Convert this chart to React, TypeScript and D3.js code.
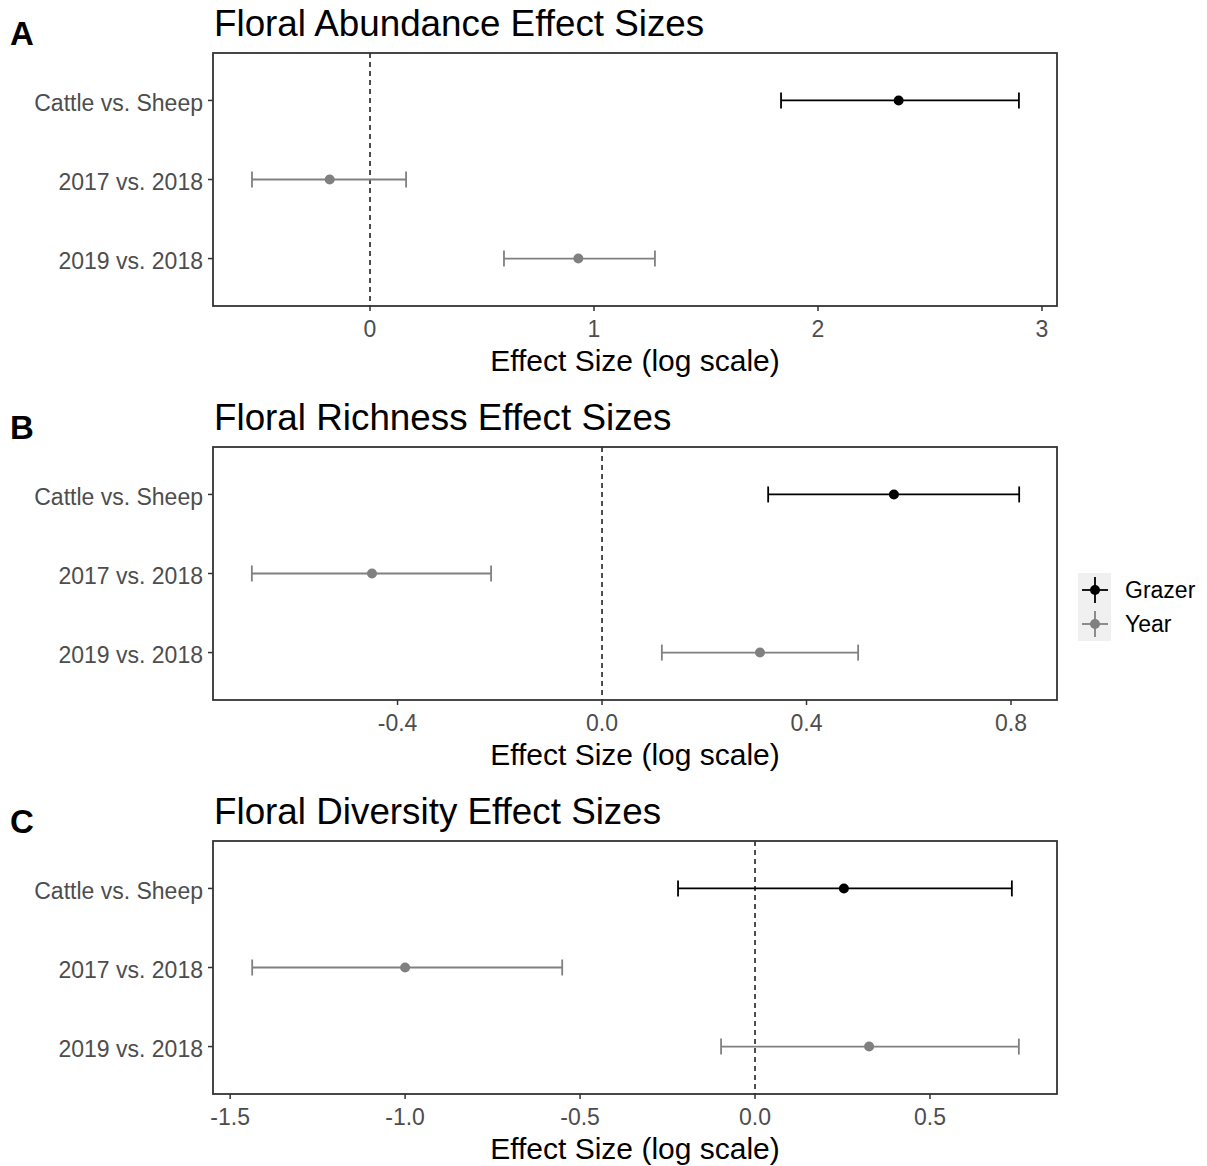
import React from "react";
import * as d3 from "d3";

const rowLabels = ["Cattle vs. Sheep", "2017 vs. 2018", "2019 vs. 2018"];
const rowGroups = ["Grazer", "Year", "Year"];
const groupNames = ["Grazer", "Year"];
const groupColors = ["#000000", "#808080"];

const panelLetters = ["A", "B", "C"];
const panelTitles = [
  "Floral Abundance Effect Sizes",
  "Floral Richness Effect Sizes",
  "Floral Diversity Effect Sizes",
];

// estimates and 95% intervals, one value per row
const abundanceEst = [2.36, -0.18, 0.93];
const abundanceLo = [1.835, -0.527, 0.598];
const abundanceHi = [2.897, 0.161, 1.272];

const richnessEst = [0.571, -0.45, 0.309];
const richnessLo = [0.325, -0.685, 0.117];
const richnessHi = [0.816, -0.217, 0.501];

const diversityEst = [0.254, -1.0, 0.326];
const diversityLo = [-0.22, -1.437, -0.097];
const diversityHi = [0.734, -0.551, 0.754];

const abundanceTicks = [0, 1, 2, 3];
const richnessTicks = [-0.4, 0.0, 0.4, 0.8];
const diversityTicks = [-1.5, -1.0, -0.5, 0.0, 0.5];

const abundanceDomain = [-0.701, 3.067];
const richnessDomain = [-0.761, 0.89];
const diversityDomain = [-1.549, 0.863];

const tickDigits = [0, 1, 1];

const panels = [
  { est: abundanceEst, lo: abundanceLo, hi: abundanceHi, ticks: abundanceTicks, domain: abundanceDomain },
  { est: richnessEst, lo: richnessLo, hi: richnessHi, ticks: richnessTicks, domain: richnessDomain },
  { est: diversityEst, lo: diversityLo, hi: diversityHi, ticks: diversityTicks, domain: diversityDomain },
];

const W = 1207;
const H = 1166;
const font = "'Liberation Sans', Arial, sans-serif";
const left = 213;
const right = 1057;
const panelH = 253;
const firstTop = 53;
const panelStep = 394;

const color = d3.scaleOrdinal<string, string>().domain(groupNames).range(groupColors);

function Panel({ idx }: { idx: number }) {
  const p = panels[idx];
  const top = firstTop + idx * panelStep;
  const bottom = top + panelH;
  const x = d3.scaleLinear().domain(p.domain).range([left, right]);
  const y = d3.scalePoint<string>().domain(rowLabels).range([top, bottom]).padding(0.6);
  const fmt = (v: number) => v.toFixed(tickDigits[idx]).replace("\u2212", "-");
  const capH = 8;
  return (
    <g>
      <text x={10} y={top - 8} fontSize={33} fontWeight="bold" fontFamily={font} fill="#000">
        {panelLetters[idx]}
      </text>
      <text x={214} y={top - 17} fontSize={36.8} fontFamily={font} fill="#000">
        {panelTitles[idx]}
      </text>
      {/* zero line */}
      <line x1={x(0)} x2={x(0)} y1={top} y2={bottom} stroke="#222" strokeWidth={1.6} strokeDasharray="5,4" />
      {rowLabels.map((r, i) => {
        const yy = y(r) as number;
        const c = color(rowGroups[i]);
        return (
          <g key={r}>
            <line x1={x(p.lo[i])} x2={x(p.hi[i])} y1={yy} y2={yy} stroke={c} strokeWidth={1.8} />
            <line x1={x(p.lo[i])} x2={x(p.lo[i])} y1={yy - capH} y2={yy + capH} stroke={c} strokeWidth={1.8} />
            <line x1={x(p.hi[i])} x2={x(p.hi[i])} y1={yy - capH} y2={yy + capH} stroke={c} strokeWidth={1.8} />
            <circle cx={x(p.est[i])} cy={yy} r={5} fill={c} />
            <line x1={left - 5} x2={left} y1={yy} y2={yy} stroke="#333" strokeWidth={1.5} />
            <text x={left - 10} y={yy} dy="0.45em" textAnchor="end" fontSize={23} fontFamily={font} fill="#4d4d4d">
              {r}
            </text>
          </g>
        );
      })}
      {p.ticks.map((t) => (
        <g key={t}>
          <line x1={x(t)} x2={x(t)} y1={bottom} y2={bottom + 5} stroke="#333" strokeWidth={1.5} />
          <text x={x(t)} y={bottom + 31} textAnchor="middle" fontSize={23} fontFamily={font} fill="#4d4d4d">
            {fmt(t)}
          </text>
        </g>
      ))}
      <rect x={left} y={top} width={right - left} height={panelH} fill="none" stroke="#333" strokeWidth={1.8} />
      <text x={(left + right) / 2} y={bottom + 65} textAnchor="middle" fontSize={30} fontFamily={font} fill="#000">
        Effect Size (log scale)
      </text>
    </g>
  );
}

function Legend() {
  const lx = 1078;
  const ly = 573;
  const keyH = 34;
  return (
    <g>
      {groupNames.map((g, i) => {
        const cy = ly + keyH / 2 + i * keyH;
        const cx = lx + 17;
        const c = color(g);
        return (
          <g key={g}>
            <rect x={lx} y={ly + i * keyH} width={33} height={keyH} fill="#f0f0f0" />
            <line x1={cx - 13} x2={cx + 13} y1={cy} y2={cy} stroke={c} strokeWidth={1.8} />
            <line x1={cx} x2={cx} y1={cy - 13} y2={cy + 13} stroke={c} strokeWidth={1.8} />
            <circle cx={cx} cy={cy} r={5} fill={c} />
            <text x={1125} y={cy} dy="0.36em" fontSize={23} fontFamily={font} fill="#000">
              {g}
            </text>
          </g>
        );
      })}
    </g>
  );
}

export default function App() {
  return (
    <svg width={W} height={H} style={{ position: "absolute", left: 0, top: 0, background: "#fff" }}>
      <rect width={W} height={H} fill="#fff" />
      {panels.map((_, i) => (
        <Panel key={i} idx={i} />
      ))}
      <Legend />
    </svg>
  );
}
